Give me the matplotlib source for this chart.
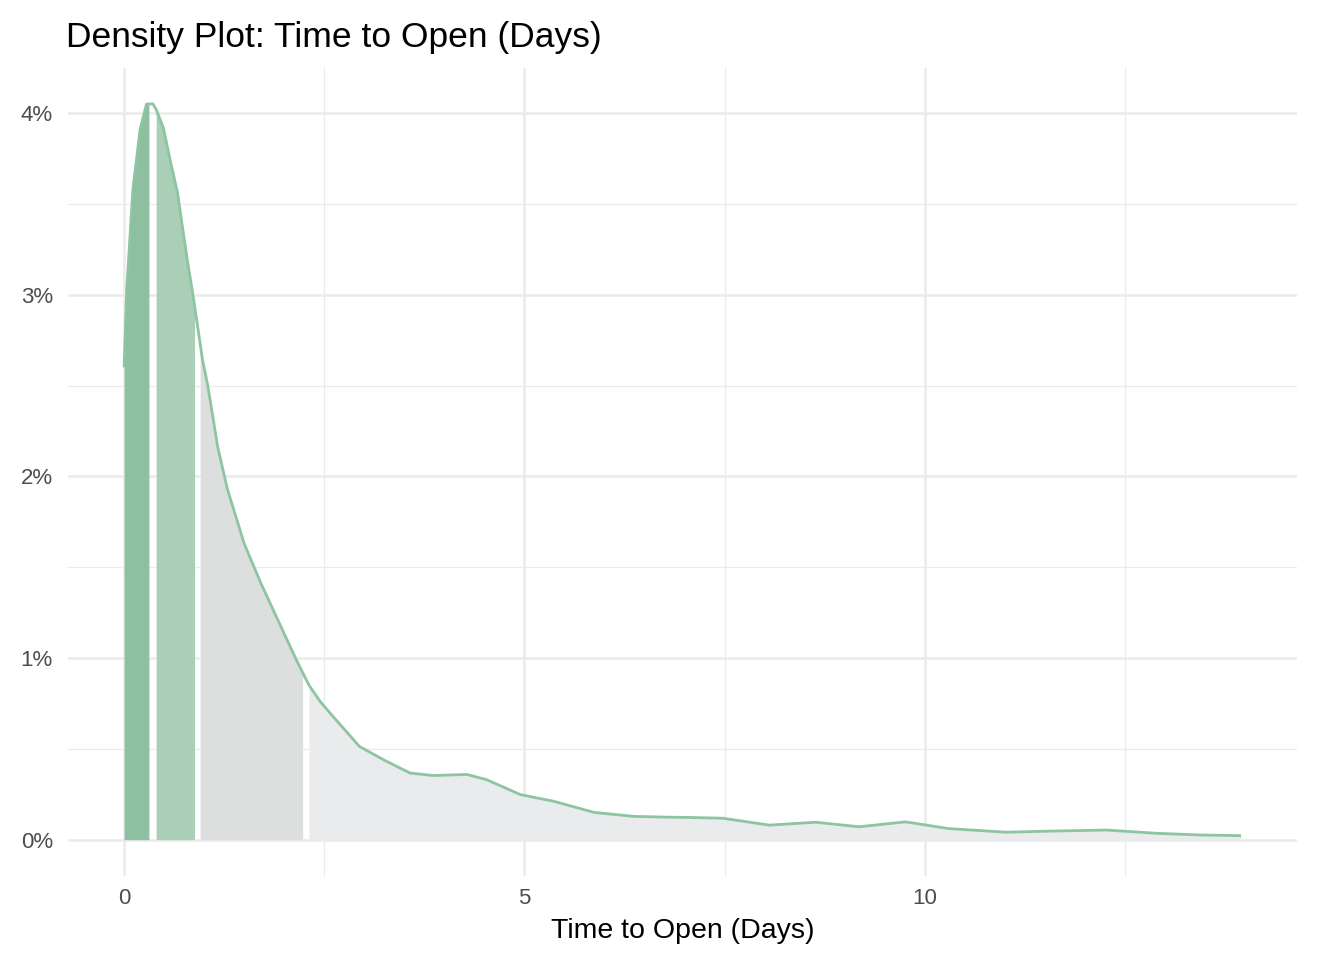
import numpy as np
import matplotlib.pyplot as plt
from matplotlib.ticker import FuncFormatter, MultipleLocator

plt.rcParams['font.family'] = ['Liberation Sans', 'DejaVu Sans']

# Density curve (x in days, y in percent)
days = np.array([0, 0.033, 0.11, 0.2, 0.28, 0.31, 0.36, 0.40, 0.49, 0.576, 0.668, 0.73,
                 0.79, 0.856, 0.88, 0.92, 0.95, 0.98, 1.045, 1.17, 1.29, 1.50, 1.71, 1.92,
                 2.13, 2.23, 2.31, 2.45, 2.61, 2.94, 3.24, 3.57, 3.86, 4.28, 4.53, 4.95,
                 5.37, 5.87, 6.37, 6.79, 7.08, 7.48, 8.06, 8.64, 9.18, 9.76, 10.3, 11.02,
                 11.56, 12.27, 12.9, 13.43, 13.95])
density = np.array([2.60, 3.03, 3.58, 3.91, 4.05, 4.05, 4.05, 4.02, 3.92, 3.74, 3.56, 3.37,
                    3.19, 3.01, 2.94, 2.82, 2.73, 2.64, 2.50, 2.16, 1.93, 1.63, 1.41, 1.21,
                    1.01, 0.92, 0.85, 0.76, 0.678, 0.513, 0.44, 0.367, 0.353, 0.359, 0.33, 0.248,
                    0.211, 0.150, 0.128, 0.124, 0.122, 0.118, 0.080, 0.096, 0.071, 0.098, 0.061, 0.041,
                    0.047, 0.053, 0.035, 0.026, 0.022])

# quantile bands (start, end) and their fills
bands = [(0, 0.31), (0.40, 0.88), (0.95, 2.23), (2.31, 13.95)]
band_colors = ["#8ebfa0", "#aacfb6", "#dcdfde", "#e9ebec"]
line_color = "#8dc4a1"

fig = plt.figure(figsize=(13.24, 9.58), dpi=100)
ax = fig.add_axes([0.0514, 0.0856, 0.9282, 0.8438])

for (a, b), c in zip(bands, band_colors):
    m = (days >= a) & (days <= b)
    ax.fill_between(days[m], 0, density[m], color=c, linewidth=0, zorder=2)

ax.plot(days, density, color=line_color, linewidth=2.0, zorder=3,
        solid_joinstyle='round', solid_capstyle='butt')

ax.set_xlim(-0.70, 14.65)
ax.set_ylim(-0.2, 4.25)
ax.xaxis.set_major_locator(MultipleLocator(5))
ax.xaxis.set_minor_locator(MultipleLocator(2.5))
ax.yaxis.set_major_locator(MultipleLocator(1))
ax.yaxis.set_minor_locator(MultipleLocator(0.5))
ax.yaxis.set_major_formatter(FuncFormatter(lambda v, p: f"{v:.0f}%"))

ax.grid(which='major', color='#ebebeb', linewidth=1.8, zorder=0)
ax.grid(which='minor', color='#ebebeb', linewidth=0.9, zorder=0)
ax.set_axisbelow(True)
for s in ax.spines.values():
    s.set_visible(False)
ax.tick_params(which='both', length=0, labelsize=16, labelcolor='#4d4d4d')
ax.tick_params(axis='y', pad=11)
ax.tick_params(axis='x', pad=9)

ax.set_xlabel("Time to Open (Days)", fontsize=20.5, labelpad=6)
ax.set_title("Density Plot: Time to Open (Days)", fontsize=25.5, loc='left', x=-0.002, pad=15)

fig.savefig("out.png", dpi=100)
